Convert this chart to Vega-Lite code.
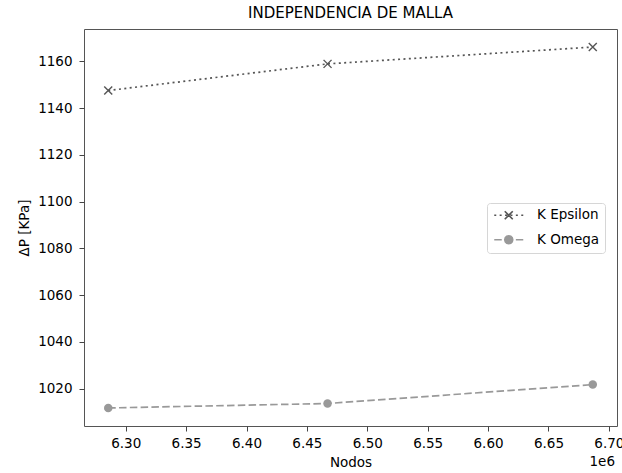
{
  "$schema": "https://vega.github.io/schema/vega-lite/v6.json",
  "width": 533,
  "height": 397,
  "autosize": {"type": "none"},
  "padding": {"left": 84, "top": 29, "right": 5, "bottom": 47},
  "background": "white",
  "title": {
    "text": "INDEPENDENCIA DE MALLA",
    "font": "DejaVu Sans",
    "fontSize": 15,
    "fontWeight": "normal",
    "color": "black",
    "anchor": "middle",
    "offset": 8
  },
  "config": {
    "view": {"stroke": "#555555", "strokeWidth": 1},
    "axis": {
      "domain": false,
      "grid": false,
      "ticks": true,
      "tickSize": 5,
      "tickColor": "#444444",
      "tickWidth": 1,
      "labelFont": "DejaVu Sans",
      "labelFontSize": 13.5,
      "labelColor": "black",
      "labelPadding": 5,
      "titleFont": "DejaVu Sans",
      "titleFontSize": 13.5,
      "titleFontWeight": "normal",
      "titleColor": "black"
    }
  },
  "data": {
    "values": [
      {"Modelo": "K Epsilon", "Nodos": 6285500, "dP": 1147.5},
      {"Modelo": "K Epsilon", "Nodos": 6467100, "dP": 1158.9},
      {"Modelo": "K Epsilon", "Nodos": 6686700, "dP": 1166.1},
      {"Modelo": "K Omega", "Nodos": 6285500, "dP": 1011.7},
      {"Modelo": "K Omega", "Nodos": 6467100, "dP": 1013.6},
      {"Modelo": "K Omega", "Nodos": 6686700, "dP": 1021.7}
    ]
  },
  "encoding": {
    "x": {
      "field": "Nodos",
      "type": "quantitative",
      "scale": {"domain": [6265440, 6706760], "nice": false, "zero": false},
      "axis": {
        "title": "Nodos",
        "values": [6300000, 6350000, 6400000, 6450000, 6500000, 6550000, 6600000, 6650000, 6700000],
        "labelExpr": "format(datum.value / 1000000, '.2f')",
        "labelFlush": false,
        "titlePadding": 6
      }
    },
    "y": {
      "field": "dP",
      "type": "quantitative",
      "scale": {"domain": [1003.98, 1173.82], "nice": false, "zero": false},
      "axis": {
        "title": "ΔP [KPa]",
        "values": [1020, 1040, 1060, 1080, 1100, 1120, 1140, 1160],
        "format": "d",
        "labelPadding": 7,
        "titlePadding": 6
      }
    }
  },
  "layer": [
    {
      "transform": [{"filter": "datum.Modelo === 'K Epsilon'"}],
      "mark": {"type": "line", "strokeWidth": 1.7, "color": "#555555", "strokeDash": [2, 3.4]},
      "encoding": {}
    },
    {
      "transform": [{"filter": "datum.Modelo === 'K Omega'"}],
      "mark": {"type": "line", "strokeWidth": 1.7, "color": "#999999", "strokeDash": [7.5, 3.3]},
      "encoding": {}
    },
    {
      "transform": [{"filter": "datum.Modelo === 'K Epsilon'"}],
      "mark": {"type": "point", "filled": false, "shape": "M-1,-1L1,1M-1,1L1,-1", "stroke": "#555555", "strokeWidth": 1.4, "size": 64, "opacity": 1},
      "encoding": {}
    },
    {
      "transform": [{"filter": "datum.Modelo === 'K Omega'"}],
      "mark": {"type": "point", "filled": true, "shape": "circle", "fill": "#999999", "size": 72, "opacity": 1},
      "encoding": {}
    },
    {
      "transform": [{"filter": "datum.Nodos < 0"}],
      "mark": {"type": "point", "filled": true, "strokeWidth": 1.6, "size": 100, "opacity": 1},
      "encoding": {
        "shape": {
          "field": "Modelo",
          "type": "nominal",
          "scale": {"domain": ["K Epsilon", "K Omega"], "range": [
            "M-1,0L-0.6,0M0.08,0L0.48,0M1.16,0L1.56,0M2.24,0L2.64,0M3.32,0L3.72,0M4.4,0L4.8,0M1.1,-0.8L2.7,0.8M1.1,0.8L2.7,-0.8",
            "M-1,0L0.5,0M1.16,0L2.66,0M3.32,0L4.8,0M2.7,0L2.593,0.4L2.3,0.693L1.9,0.8L1.5,0.693L1.207,0.4L1.1,0L1.207,-0.4L1.5,-0.693L1.9,-0.8L2.3,-0.693L2.593,-0.4Z"
          ]},
          "legend": {
            "title": null,
            "orient": "none",
            "legendX": 403,
            "legendY": 174,
            "padding": 5.5,
            "rowPadding": 9.5,
            "symbolSize": 100,
            "symbolOpacity": 1,
            "symbolStrokeWidth": 1.6,
            "labelOffset": 31,
            "labelFont": "DejaVu Sans",
            "labelFontSize": 13.5,
            "labelColor": "black",
            "strokeColor": "#d6d6d6",
            "fillColor": "white",
            "cornerRadius": 3
          }
        },
        "fill": {
          "field": "Modelo",
          "type": "nominal",
          "scale": {"domain": ["K Epsilon", "K Omega"], "range": ["#555555", "#999999"]},
          "legend": null
        },
        "stroke": {
          "field": "Modelo",
          "type": "nominal",
          "scale": {"domain": ["K Epsilon", "K Omega"], "range": ["#555555", "#999999"]},
          "legend": null
        }
      }
    },
    {
      "transform": [{"filter": "datum.Modelo === 'K Epsilon' && datum.Nodos === 6686700"}],
      "mark": {"type": "text", "font": "DejaVu Sans", "fontSize": 13.5, "fontWeight": "normal", "color": "black", "dy": 36, "dx": -2, "align": "right", "baseline": "middle", "clip": false},
      "encoding": {
        "x": {"datum": 6706760},
        "y": {"datum": 1003.98},
        "text": {"value": "1e6"}
      }
    }
  ]
}
